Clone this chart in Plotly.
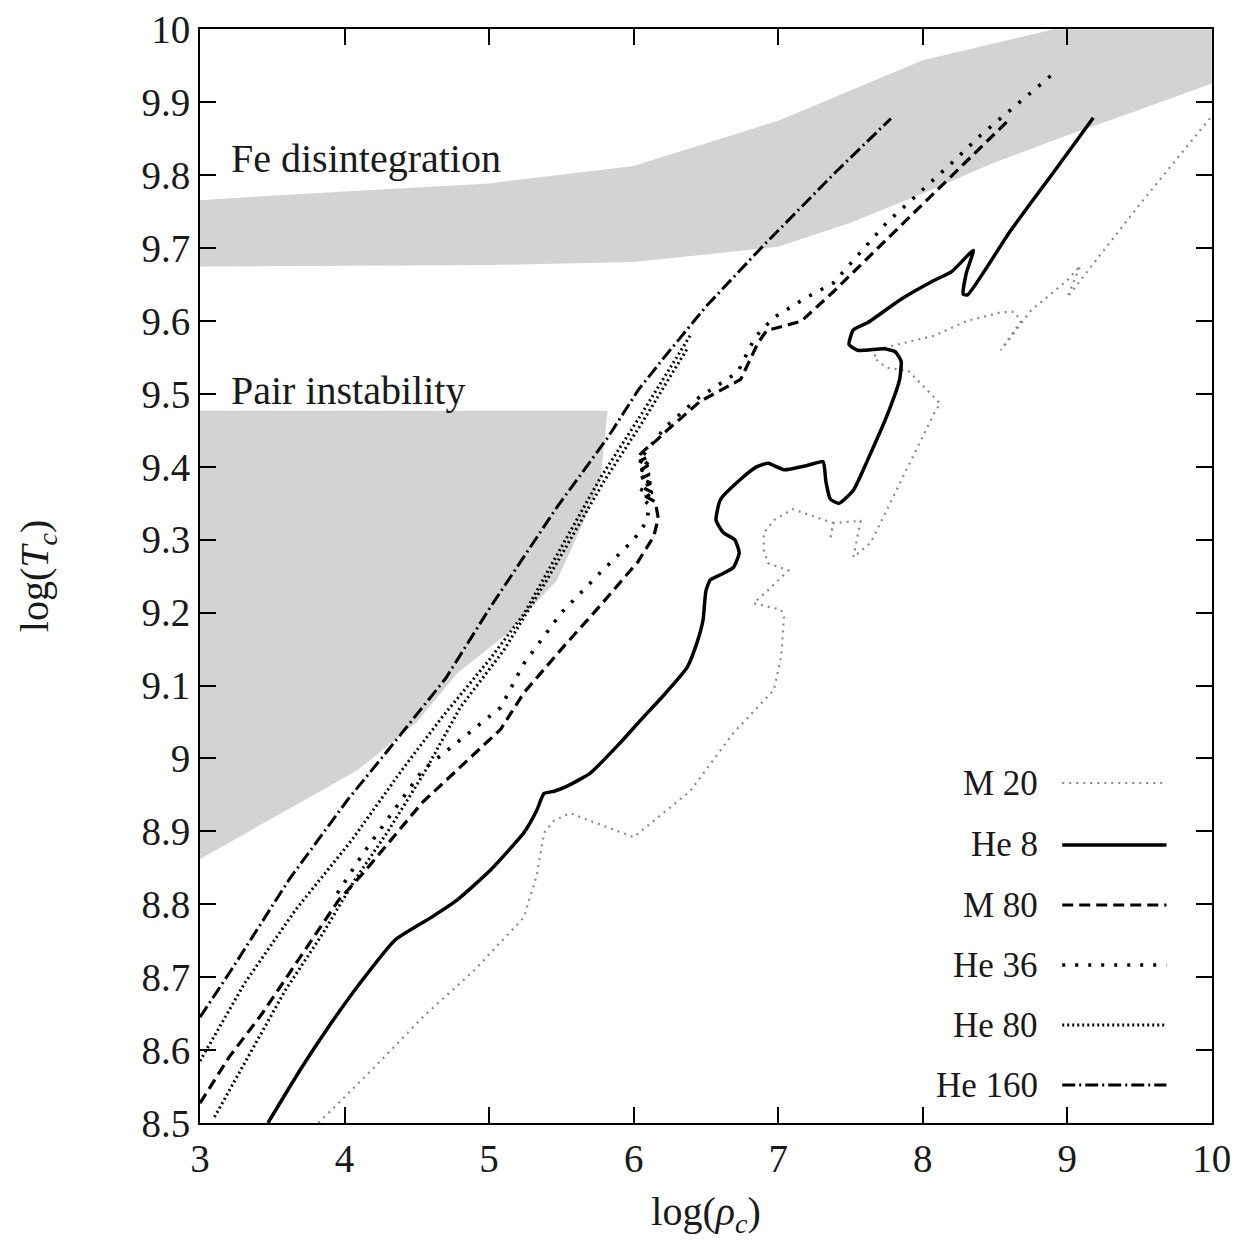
import plotly.graph_objects as go

# ---------------- data (log rho_c, log T_c) ----------------
# Fe disintegration band
fe_lo_x = [3.0, 4.0, 5.0, 6.0, 7.0, 7.5, 8.0, 8.5, 9.0, 9.5, 10.0]
fe_lo_y = [9.675, 9.676, 9.677, 9.681, 9.702, 9.735, 9.775, 9.818, 9.855, 9.89, 9.926]
fe_hi_x = [3.0, 4.0, 5.0, 6.0, 7.0, 8.0, 8.9, 10.0]
fe_hi_y = [9.766, 9.778, 9.789, 9.813, 9.875, 9.958, 10.0, 10.0]

# Pair instability region (top edge flat, lower-right boundary)
pi_top_y = 9.477
pi_edge_x = [5.82, 5.80, 5.77, 5.65, 5.47, 5.13, 4.78, 4.50, 4.09, 3.50, 3.0]
pi_edge_y = [9.477, 9.44, 9.382, 9.323, 9.245, 9.172, 9.117, 9.05, 8.984, 8.918, 8.862]

# M 20
m20_x = [3.82, 4.2, 4.54, 4.9, 5.24, 5.33, 5.38, 5.45, 5.56, 6.0, 6.39, 6.69, 6.97, 7.02, 7.04, 7.02,
         6.83, 6.93, 7.07, 6.93, 6.90, 6.90, 6.97, 7.10, 7.38, 7.36, 7.38, 7.57, 7.52, 7.64, 7.85,
         8.08, 8.12, 7.90, 7.75, 7.66, 7.70, 7.80, 8.08, 8.3, 8.54, 8.63, 8.68, 8.54, 8.75, 9.0,
         9.09, 9.0, 9.5, 9.99]
m20_y = [8.50, 8.575, 8.645, 8.71, 8.782, 8.84, 8.898, 8.915, 8.925, 8.892, 8.955, 9.035, 9.094,
         9.139, 9.194, 9.204, 9.213, 9.231, 9.258, 9.268, 9.286, 9.309, 9.327, 9.342, 9.323, 9.30,
         9.323, 9.326, 9.276, 9.296, 9.382, 9.474, 9.487, 9.532, 9.536, 9.55, 9.562, 9.567, 9.58,
         9.60, 9.612, 9.613, 9.60, 9.56, 9.615, 9.656, 9.676, 9.633, 9.76, 9.879]

# He 8
he8_x = [3.47, 3.7, 3.89, 4.1, 4.35, 4.6, 4.78, 5.01, 5.24, 5.33, 5.38, 5.45, 5.54, 5.70, 5.9,
         6.05, 6.2, 6.37, 6.44, 6.48, 6.50, 6.53, 6.60, 6.69, 6.73, 6.70, 6.62, 6.57, 6.60, 6.74,
         6.85, 6.93, 7.04, 7.20, 7.31, 7.33, 7.36, 7.42, 7.52, 7.62, 7.76, 7.84, 7.85, 7.81, 7.73,
         7.55, 7.49, 7.52, 7.62, 7.85, 8.08, 8.2, 8.35, 8.30, 8.28, 8.31, 8.6, 8.9, 9.18]
he8_y = [8.50, 8.575, 8.632, 8.69, 8.751, 8.782, 8.806, 8.847, 8.898, 8.929, 8.952, 8.955, 8.962,
         8.98, 9.02, 9.053, 9.085, 9.125, 9.16, 9.19, 9.23, 9.245, 9.252, 9.262, 9.282, 9.300,
         9.310, 9.327, 9.355, 9.383, 9.400, 9.405, 9.396, 9.402, 9.407, 9.38, 9.356, 9.350, 9.368,
         9.41, 9.474, 9.52, 9.545, 9.558, 9.562, 9.56, 9.568, 9.588, 9.598, 9.63, 9.656, 9.668,
         9.697, 9.665, 9.637, 9.636, 9.722, 9.803, 9.879]

# M 80
m80_x = [3.0, 3.2, 3.43, 3.7, 3.96, 4.13, 4.54, 5.08, 5.24, 5.5, 5.77, 6.03, 6.14, 6.17, 6.15,
         6.08, 6.13, 6.06, 6.12, 6.05, 6.11, 6.05, 6.10, 6.04, 6.09, 6.05, 6.08, 6.15, 6.23, 6.46,
         6.74, 6.86, 6.92, 7.16, 7.38, 7.75, 8.19, 8.59]
m80_y = [8.527, 8.59, 8.65, 8.73, 8.806, 8.843, 8.94, 9.04, 9.09, 9.15, 9.21, 9.27, 9.305, 9.33,
         9.352, 9.36, 9.365, 9.372, 9.378, 9.384, 9.39, 9.396, 9.402, 9.408, 9.413, 9.418, 9.424,
         9.435, 9.45, 9.49, 9.52, 9.57, 9.587, 9.60, 9.64, 9.712, 9.797, 9.875]

# He 36
he36_x = [3.95, 4.13, 4.54, 5.08, 5.24, 5.5, 5.77, 6.0, 6.09, 6.11, 6.06, 6.12, 6.04, 6.11, 6.05,
          6.10, 6.04, 6.09, 6.05, 6.08, 6.13, 6.22, 6.45, 6.72, 6.84, 6.97, 7.20, 7.38, 7.75, 8.19,
          8.40, 8.93]
he36_y = [8.815, 8.87, 8.984, 9.07, 9.13, 9.20, 9.255, 9.30, 9.325, 9.348, 9.356, 9.363, 9.37,
          9.377, 9.384, 9.391, 9.398, 9.405, 9.412, 9.42, 9.432, 9.455, 9.495, 9.53, 9.578, 9.605,
          9.633, 9.652, 9.735, 9.815, 9.855, 9.944]

# He 80 (two close branches)
he80a_x = [3.0, 3.31, 3.66, 4.05, 4.4, 4.68, 5.0, 5.24, 5.5, 5.77, 6.03, 6.2, 6.39]
he80a_y = [8.585, 8.692, 8.792, 8.888, 8.985, 9.058, 9.135, 9.198, 9.29, 9.385, 9.465, 9.52, 9.58]
he80b_x = [3.10, 3.35, 3.59, 3.85, 4.07, 4.3, 4.55, 4.8, 5.1, 5.4, 5.8, 6.05, 6.37]
he80b_y = [8.508, 8.597, 8.682, 8.76, 8.833, 8.90, 8.98, 9.07, 9.148, 9.245, 9.382, 9.458, 9.562]

# He 160
he160_x = [3.0, 3.23, 3.62, 4.02, 4.32, 4.7, 5.01, 5.47, 5.82, 6.03, 6.21, 6.5, 6.88, 7.1, 7.4, 7.78]
he160_y = [8.645, 8.714, 8.835, 8.943, 9.016, 9.11, 9.208, 9.345, 9.44, 9.505, 9.55, 9.62, 9.70,
           9.745, 9.805, 9.878]

legend_labels = ["M 20", "He 8", "M 80", "He 36", "He 80", "He 160"]
x_ticks = [3, 4, 5, 6, 7, 8, 9, 10]
y_ticks = [8.5, 8.6, 8.7, 8.8, 8.9, 9.0, 9.1, 9.2, 9.3, 9.4, 9.5, 9.6, 9.7, 9.8, 9.9, 10.0]
y_tick_text = ["8.5", "8.6", "8.7", "8.8", "8.9", "9", "9.1", "9.2", "9.3", "9.4", "9.5",
               "9.6", "9.7", "9.8", "9.9", "10"]

# ---------------- styles ----------------
FONT = "Liberation Serif"
TXT = "#1a1a1a"
GRAY = "rgb(211,211,211)"
styles = {
    "M 20": dict(color="#8a8a8a", width=2.2, dash="2px,5px"),
    "He 8": dict(color="black", width=3.5, dash="solid"),
    "M 80": dict(color="black", width=3.2, dash="11px,6px"),
    "He 36": dict(color="black", width=3.6, dash="3px,10px"),
    "He 80": dict(color="black", width=3.0, dash="2px,3px"),
    "He 160": dict(color="black", width=3.0, dash="13px,4px,2px,4px"),
}

fig = go.Figure()

# shaded regions
fig.add_trace(go.Scatter(x=fe_lo_x + fe_hi_x[::-1], y=fe_lo_y + fe_hi_y[::-1], fill="toself",
                         fillcolor=GRAY, line=dict(width=0), mode="lines", hoverinfo="skip"))
fig.add_trace(go.Scatter(x=[3.0] + pi_edge_x, y=[pi_top_y] + pi_edge_y, fill="toself",
                         fillcolor=GRAY, line=dict(width=0), mode="lines", hoverinfo="skip"))

series = [
    ("M 20", m20_x, m20_y, "linear"),
    ("He 8", he8_x, he8_y, "spline"),
    ("M 80", m80_x, m80_y, "linear"),
    ("He 36", he36_x, he36_y, "linear"),
    ("He 80", he80a_x, he80a_y, "linear"),
    ("He 80", he80b_x, he80b_y, "linear"),
    ("He 160", he160_x, he160_y, "linear"),
]
for name, xs, ys, shape in series:
    st = styles[name]
    line = dict(color=st["color"], width=st["width"], dash=st["dash"], shape=shape)
    if shape == "spline":
        line["smoothing"] = 0.5
    fig.add_trace(go.Scatter(x=xs, y=ys, mode="lines", name=name, line=line, showlegend=False))

# page has an 8px body margin; plot area spans px 200..1212 x 29..1123 in the page
W, H = 1230, 1238
ML, MR, MT, MB = 192, 26, 21, 123
plot_h = H - MT - MB

# custom legend: text then sample line (as in the original)
leg_py = [783, 845, 905, 965, 1025, 1085]
for lab, py in zip(legend_labels, leg_py):
    yp = (1123 - py) / plot_h
    st = styles[lab]
    fig.add_annotation(x=0.830, y=yp, xref="paper", yref="paper", text=lab, showarrow=False,
                       xanchor="right", yanchor="middle", font=dict(family=FONT, size=35, color=TXT))
    fig.add_shape(type="line", xref="paper", yref="paper", x0=0.852, x1=0.955, y0=yp, y1=yp,
                  line=dict(color=st["color"], width=st["width"], dash=st["dash"]))

fig.add_annotation(x=3.2, y=9.823, text="Fe disintegration", showarrow=False, xanchor="left",
                   yanchor="middle", font=dict(family=FONT, size=40, color=TXT))
fig.add_annotation(x=3.2, y=9.505, text="Pair instability", showarrow=False, xanchor="left",
                   yanchor="middle", font=dict(family=FONT, size=40, color=TXT))

axis_common = dict(showline=True, linecolor="black", linewidth=2, mirror="ticks", ticks="inside",
                   ticklen=16, tickwidth=2, tickcolor="black", showgrid=False, zeroline=False,
                   tickfont=dict(family=FONT, size=39, color=TXT))
fig.update_xaxes(range=[3, 10.001], tickvals=x_ticks, ticktext=[str(v) for v in x_ticks],
                 title=dict(text="log(<i>ρ<sub>c</sub></i>)", font=dict(family=FONT, size=40, color=TXT),
                            standoff=18), **axis_common)
fig.update_yaxes(range=[8.4999, 10.0008], tickvals=y_ticks, ticktext=y_tick_text,
                 title=dict(text="log(<i>T<sub>c</sub></i>)", font=dict(family=FONT, size=40, color=TXT),
                            standoff=80), **axis_common)

fig.update_layout(width=W, height=H, margin=dict(l=ML, r=MR, t=MT, b=MB, autoexpand=False),
                  plot_bgcolor="white", paper_bgcolor="white", showlegend=False)

fig.write_html("out.html")
